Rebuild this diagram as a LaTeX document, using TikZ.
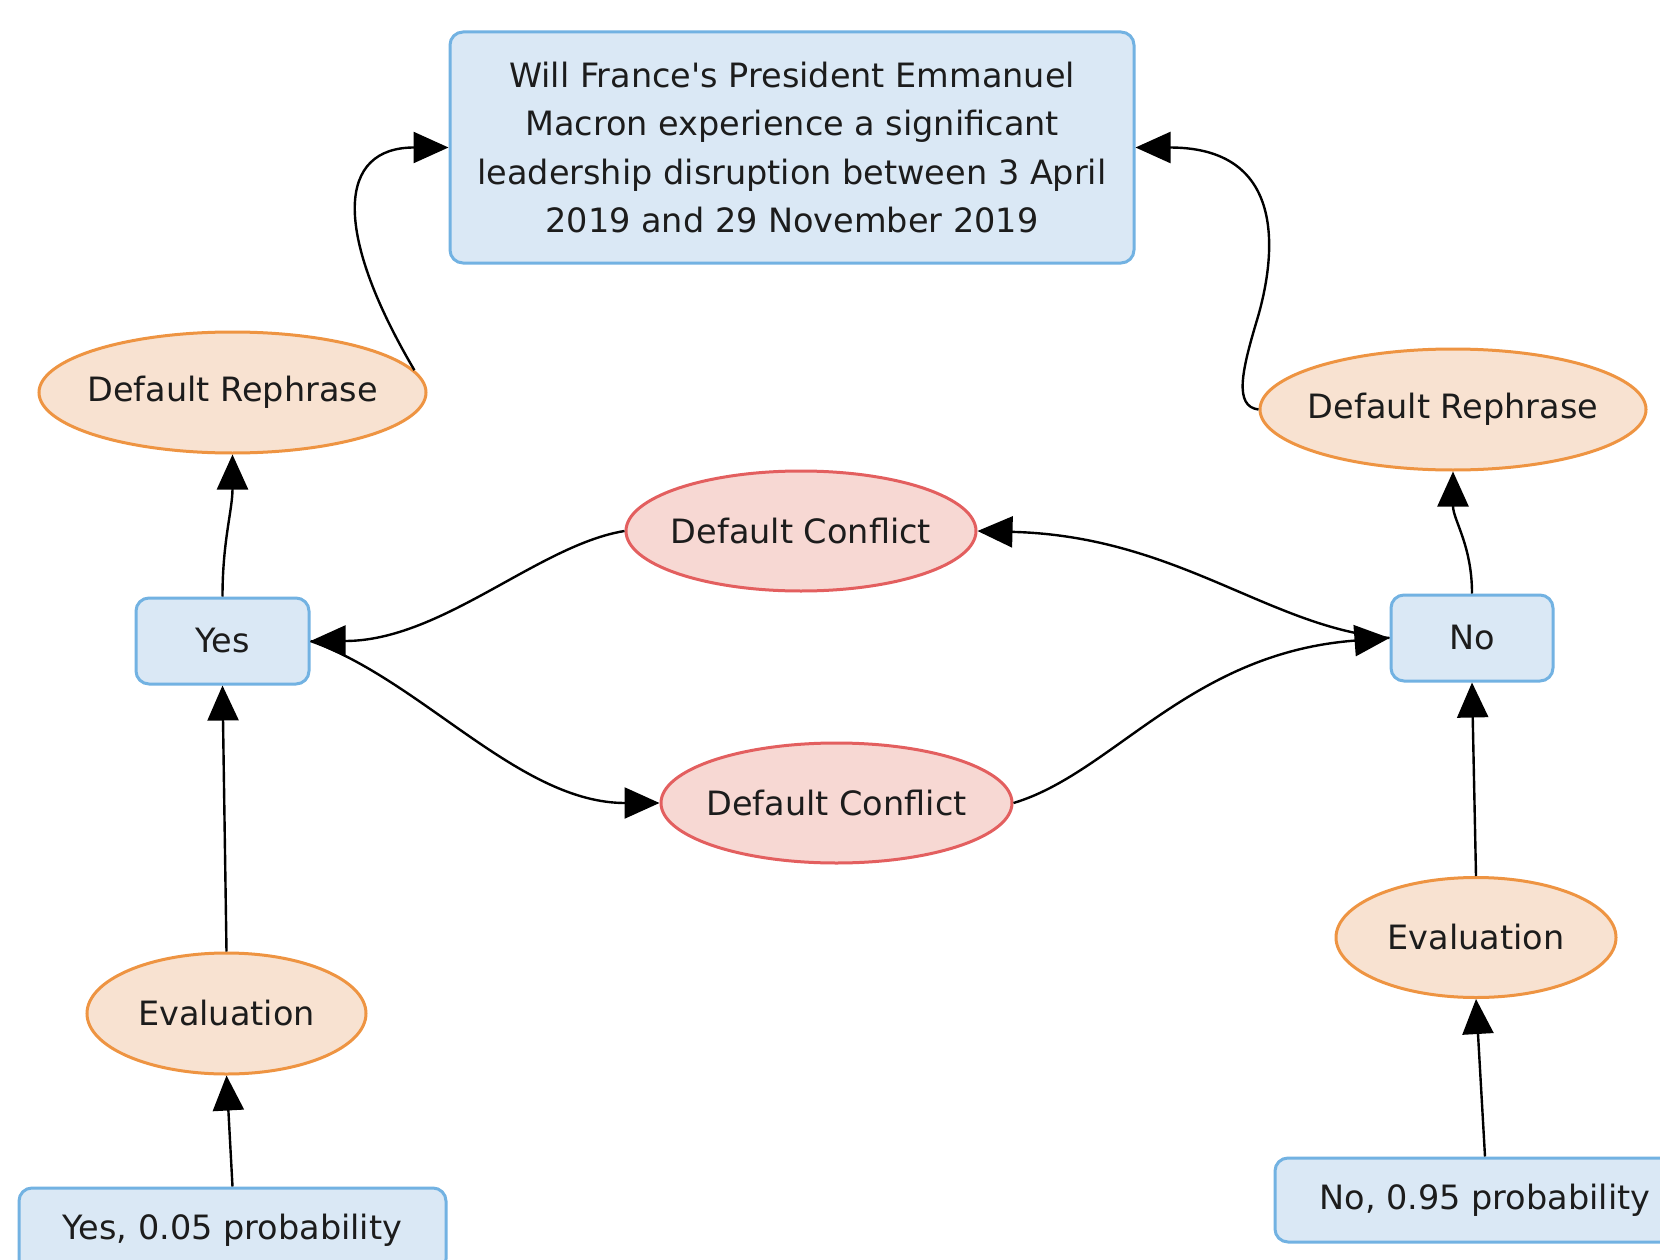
\documentclass[tikz,border=0pt]{standalone}
\usepackage{fontspec}
\setmainfont{DejaVu Sans}
\usetikzlibrary{arrows.meta,shapes.geometric}
\definecolor{bfill}{HTML}{DAE8F5}
\definecolor{bline}{HTML}{72B2E2}
\definecolor{ofill}{HTML}{F8E2D1}
\definecolor{oline}{HTML}{EE9442}
\definecolor{rfill}{HTML}{F7D8D3}
\definecolor{rline}{HTML}{E35F5F}
\definecolor{txt}{HTML}{1C1C1C}
\tikzset{
  base/.style={font=\fontsize{33.5}{48.4}\selectfont, text=txt, line width=3pt},
  bluebox/.style={base, draw=bline, fill=bfill, rectangle, rounded corners=13pt, inner sep=0pt, align=center},
  oval/.style={base, ellipse, inner xsep=-60pt, inner ysep=0pt},
  orangeoval/.style={oval, draw=oline, fill=ofill},
  redoval/.style={oval, draw=rline, fill=rfill},
  arr/.style={line width=2.4pt, draw=black, -{Triangle[length=35pt,width=31pt]}}
}
\begin{document}
\begin{tikzpicture}[x=1pt,y=1pt]
\useasboundingbox (0,0) rectangle (1660,-1260);
\clip (0,0) rectangle (1660,-1260);
\fill[white] (0,0) rectangle (1660,-1260);

\node[bluebox, minimum width=684pt, minimum height=231pt] (top) at (792,-147.5)
  {Will France\textquotesingle s President Emmanuel\\Macron experience a significant\\leadership disruption between 3 April\\2019 and 29 November 2019};
\node[orangeoval, minimum width=387pt, minimum height=121pt] (rephL) at (232.5,-392.5) {Default Rephrase};
\node[orangeoval, minimum width=386pt, minimum height=121pt] (rephR) at (1453,-409.5) {Default Rephrase};
\node[redoval, minimum width=350pt, minimum height=120pt] (confT) at (801,-531) {Default Conflict};
\node[redoval, minimum width=351pt, minimum height=120pt] (confB) at (836.5,-803) {Default Conflict};
\node[bluebox, minimum width=173pt, minimum height=86pt] (yes) at (222.5,-641) {Yes};
\node[bluebox, minimum width=162pt, minimum height=86pt] (no) at (1472,-638) {No};
\node[orangeoval, minimum width=279pt, minimum height=121pt] (evalL) at (226.5,-1013.5) {Evaluation};
\node[orangeoval, minimum width=280pt, minimum height=120pt] (evalR) at (1476,-937.5) {Evaluation};
\node[bluebox, minimum width=427pt, minimum height=84pt] (yesP) at (232.5,-1230) {Yes, 0.05 probability};
\node[bluebox, minimum width=420pt, minimum height=84pt] (noP) at (1485,-1200) {No, 0.95 probability};

% vertical chains
\draw[arr] (yesP.north) -- (evalL.south);
\draw[arr] (evalL.north) -- (yes.south);
\draw[arr] (yes.north) to[out=90,in=-90] (rephL.south);
\draw[arr] (noP.north) -- (evalR.south);
\draw[arr] (evalR.north) -- (no.south);
\draw[arr] (no.north) to[out=90,in=-90] (rephR.south);

% to the question
\draw[arr] (rephL.7) .. controls +(-83,141) and +(-110,0) .. (top.west);
\draw[arr] (rephR.west) .. controls +(-25,3) and +(-15,-50) .. (1257,-320)
  .. controls +(15,50) and +(160,0) .. (top.east);

% conflicts
\draw[arr] (confT.west) .. controls +(-86,-14) and +(131,0) .. (yes.east);
\draw[arr] (yes.east) .. controls +(111,-39) and +(-140,0) .. (confB.west);
\draw[arr] (no.west) .. controls +(-120,10) and +(200,-5) .. (confT.east);
\draw[arr] (confB.east) .. controls +(100,30) and +(-200,-15) .. (no.west);
\end{tikzpicture}
\end{document}
